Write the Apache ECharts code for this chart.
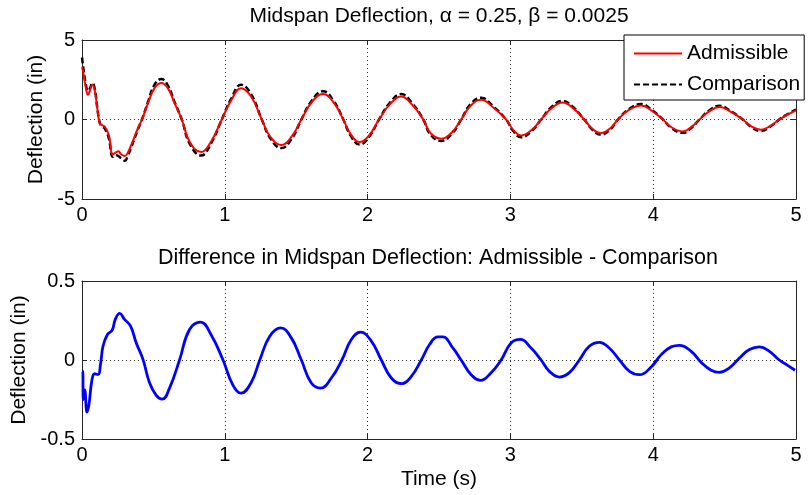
<!DOCTYPE html>
<html>
<head>
<meta charset="utf-8">
<script src="https://cdn.jsdelivr.net/npm/echarts@6/dist/echarts.min.js"></script>
<style>html,body{margin:0;padding:0;background:#fff}#c{width:808px;height:495px}</style>
</head>
<body>
<div id="c"></div>
<script>
// Time (s) and values
const admT = [0,0.010,0.025,0.042,0.058,0.072,0.089,0.107,0.124,0.140,0.159,0.187,0.217,0.240,0.255,0.275,0.300,0.320,0.345,0.392,0.420,0.462,0.508,0.555,0.601,0.648,0.699,0.753,0.834,0.904,0.979,1.044,1.114,1.184,1.259,1.320,1.396,1.466,1.536,1.610,1.688,1.760,1.830,1.880,1.944,2.010,2.080,2.160,2.236,2.310,2.390,2.440,2.515,2.590,2.655,2.720,2.795,2.880,2.970,3.020,3.075,3.150,3.215,3.290,3.366,3.440,3.517,3.570,3.634,3.700,3.753,3.830,3.916,3.990,4.068,4.130,4.208,4.270,4.324,4.390,4.464,4.540,4.627,4.690,4.755,4.820,4.883,4.940,5.000];
const admissible = [3.3,2.9,2.1,1.55,1.9,2.2,1.85,0.7,-0.23,-0.35,-0.44,-0.96,-2.2,-2.05,-2.0,-2.2,-2.3,-2.1,-1.6,-0.54,0,1.03,1.97,2.29,1.97,1.03,0,-1.38,-2.05,-1.38,0,1.2,1.97,1.45,0,-1.1,-1.6,-1.1,0,1.1,1.6,1.1,0,-0.9,-1.42,-1.0,0,1.0,1.45,0.95,0,-0.85,-1.21,-0.8,0,0.85,1.24,0.75,0,-0.65,-1.0,-0.65,0,0.72,1.07,0.7,0,-0.55,-0.86,-0.55,0,0.6,0.88,0.55,0,-0.5,-0.75,-0.45,0,0.5,0.78,0.5,0,-0.45,-0.65,-0.4,0,0.3,0.58];
const comparison = [3.9,3.2,2.3,1.8,2.0,2.3,1.95,0.75,-0.2,-0.45,-0.55,-1.15,-2.35,-2.25,-2.3,-2.45,-2.6,-2.3,-1.75,-0.6,0,1.1,2.2,2.54,2.15,1.1,0,-1.5,-2.27,-1.5,0,1.3,2.18,1.6,0,-1.2,-1.8,-1.25,0,1.2,1.78,1.2,0,-1.0,-1.58,-1.1,0,1.1,1.6,1.05,0,-0.95,-1.35,-0.9,0,0.95,1.37,0.82,0,-0.72,-1.12,-0.72,0,0.8,1.17,0.77,0,-0.6,-0.96,-0.62,0,0.66,0.97,0.6,0,-0.55,-0.84,-0.5,0,0.55,0.86,0.55,0,-0.5,-0.73,-0.45,0,0.33,0.63];
const diffT = [0,0.005,0.009,0.019,0.035,0.049,0.070,0.089,0.112,0.131,0.147,0.177,0.212,0.233,0.264,0.298,0.340,0.380,0.427,0.473,0.520,0.562,0.613,0.683,0.753,0.830,0.904,0.986,1.056,1.114,1.184,1.245,1.315,1.392,1.466,1.536,1.606,1.671,1.746,1.820,1.886,1.951,2.026,2.096,2.166,2.236,2.306,2.376,2.434,2.492,2.527,2.597,2.655,2.725,2.790,2.865,2.935,3.005,3.070,3.145,3.215,3.273,3.343,3.413,3.483,3.552,3.622,3.692,3.764,3.834,3.904,3.986,4.056,4.126,4.184,4.266,4.336,4.406,4.464,4.534,4.604,4.674,4.744,4.814,4.883,4.941,4.993];
const difference = [-0.07,-0.07,-0.25,-0.19,-0.33,-0.28,-0.125,-0.087,-0.093,-0.017,0.087,0.16,0.19,0.257,0.295,0.257,0.214,0.108,0.004,-0.144,-0.224,-0.248,-0.178,0,0.193,0.24,0.16,0.003,-0.157,-0.21,-0.144,0,0.15,0.203,0.14,0,-0.146,-0.178,-0.114,0,0.13,0.176,0.12,0,-0.114,-0.15,-0.104,0,0.098,0.146,0.146,0.076,0,-0.093,-0.129,-0.08,0,0.108,0.13,0.076,0,-0.072,-0.108,-0.08,0,0.087,0.112,0.076,0,-0.072,-0.093,-0.044,0.034,0.083,0.093,0.055,-0.015,-0.065,-0.078,-0.05,0.013,0.066,0.083,0.055,0,-0.034,-0.065];
const xTicks = [0,1,2,3,4,5];
const topTitle = 'Midspan Deflection, \u03b1 = 0.25, \u03b2 = 0.0025';
const botTitle = 'Difference in Midspan Deflection: Admissible - Comparison';

const FONT = 'Liberation Sans, Arial, sans-serif';
const zip = (a, b) => a.map((t, i) => [t, b[i]]);
const axisCol = '#262626';
const grids = [
  {left: 82, right: 12, top: 40, height: 159, show: false},
  {left: 82, right: 12, top: 281, height: 158, show: false}
];
const dotted = {type: [1, 3], color: '#333', width: 1};
function xAx(gi, pos, labels, name) {
  return {
    type: 'value', gridIndex: gi, position: pos, min: 0, max: 5, interval: 1,
    axisLine: {show: true, onZero: false, lineStyle: {color: axisCol, width: 1}},
    axisTick: {show: true, inside: true, length: 5, lineStyle: {color: axisCol}},
    axisLabel: {show: labels, color: '#000', fontSize: 20, fontFamily: FONT, margin: 6,
      formatter: v => xTicks.includes(v) ? String(v) : ''},
    splitLine: {show: pos === 'bottom', showMinLine: false, showMaxLine: false, lineStyle: dotted},
    name: name || '', nameLocation: 'middle', nameGap: 30,
    nameTextStyle: {color: '#000', fontSize: 21, fontFamily: FONT}
  };
}
function yAx(gi, pos, lim, step, labels, gap) {
  return {
    type: 'value', gridIndex: gi, position: pos, min: -lim, max: lim, interval: step,
    axisLine: {show: true, onZero: false, lineStyle: {color: axisCol, width: 1}},
    axisTick: {show: true, inside: true, length: 5, lineStyle: {color: axisCol}},
    axisLabel: {show: labels, color: '#000', fontSize: 20, fontFamily: FONT, margin: 7},
    splitLine: {show: pos === 'left', showMinLine: false, showMaxLine: false, lineStyle: dotted},
    name: labels ? 'Deflection (in)' : '', nameLocation: 'middle', nameGap: gap,
    nameTextStyle: {color: '#000', fontSize: 21, fontFamily: FONT}
  };
}
const chart = echarts.init(document.getElementById('c'), null, {renderer: 'canvas'});
chart.setOption({
  animation: false,
  backgroundColor: '#fff',
  grid: grids,
  xAxis: [xAx(0, 'bottom', true), xAx(0, 'top', false), xAx(1, 'bottom', true, 'Time (s)'), xAx(1, 'top', false)],
  yAxis: [yAx(0, 'left', 5, 5, true, 30), yAx(0, 'right', 5, 5, false, 0), yAx(1, 'left', 0.5, 0.5, true, 46), yAx(1, 'right', 0.5, 0.5, false, 0)],
  legend: {
    data: ['Admissible', 'Comparison'], orient: 'vertical', left: 624, top: 35,
    backgroundColor: '#fff', borderColor: '#000', borderWidth: 1,
    padding: [8, 4, 5, 9], itemGap: 10, itemWidth: 48, itemHeight: 14,
    itemStyle: {opacity: 0},
    textStyle: {color: '#000', fontSize: 21, fontFamily: FONT}
  },
  graphic: [
    {type: 'text', x: 439, y: 16, style: {text: topTitle, font: '21px ' + FONT, fill: '#000', textAlign: 'center', textVerticalAlign: 'middle'}},
    {type: 'text', x: 438, y: 258, style: {text: botTitle, font: '21.5px ' + FONT, fill: '#000', textAlign: 'center', textVerticalAlign: 'middle'}}
  ],
  series: [
    {name: 'Comparison', type: 'line', xAxisIndex: 0, yAxisIndex: 0, data: zip(admT, comparison),
      symbol: 'none', smooth: 0.45, lineStyle: {color: '#000', width: 2.5, type: [6, 3]}, itemStyle: {color: '#000'}, z: 2},
    {name: 'Admissible', type: 'line', xAxisIndex: 0, yAxisIndex: 0, data: zip(admT, admissible),
      symbol: 'none', smooth: 0.45, lineStyle: {color: '#ff0000', width: 2}, itemStyle: {color: '#ff0000'}, z: 3},
    {name: 'Difference', type: 'line', xAxisIndex: 2, yAxisIndex: 2, data: zip(diffT, difference),
      symbol: 'none', smooth: 0.45, lineStyle: {color: '#0000ff', width: 2.8}, itemStyle: {color: '#0000ff'}, z: 3}
  ]
});
</script>
</body>
</html>
